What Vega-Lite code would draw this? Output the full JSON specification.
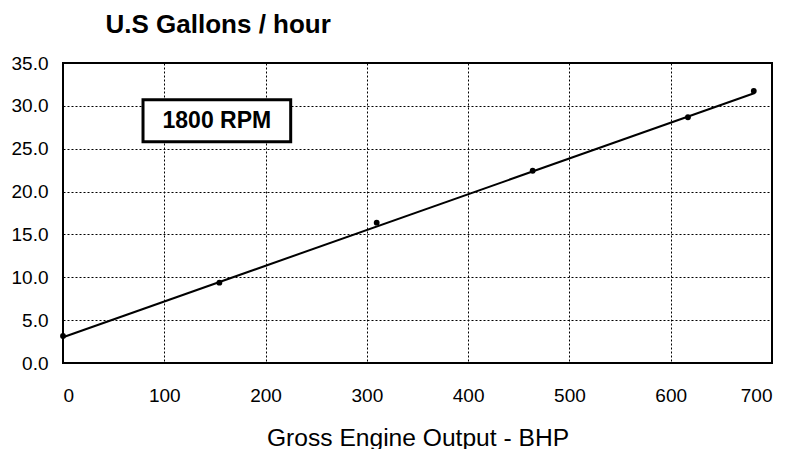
{
  "$schema": "https://vega.github.io/schema/vega-lite/v6.json",
  "width": 709,
  "height": 300,
  "autosize": "none",
  "padding": {"left": 63, "top": 63, "right": 18, "bottom": 86},
  "background": "white",
  "config": {
    "font": "Liberation Sans",
    "view": {"stroke": "black", "strokeWidth": 2},
    "axis": {
      "domain": false,
      "ticks": false,
      "grid": true,
      "gridColor": "black",
      "gridDash": [2, 2],
      "gridWidth": 1,
      "gridOpacity": 1,
      "labelFont": "Liberation Sans",
      "labelFontSize": 19,
      "labelColor": "black",
      "titleFont": "Liberation Sans",
      "titleColor": "black"
    }
  },
  "datasets": {
    "points": [
      {"bhp": 0, "gph": 3.15},
      {"bhp": 154.4, "gph": 9.37},
      {"bhp": 309.7, "gph": 16.37},
      {"bhp": 463.7, "gph": 22.43},
      {"bhp": 617, "gph": 28.67},
      {"bhp": 682, "gph": 31.73}
    ],
    "trend": [
      {"bhp": 0, "gph": 3.0},
      {"bhp": 683, "gph": 31.5}
    ],
    "box": [
      {"x1": 79, "x2": 224.8, "y1": 25.8, "y2": 30.7, "xc": 151.9, "yc": 28.25, "label": "1800 RPM"}
    ]
  },
  "layer": [
    {
      "data": {"name": "trend"},
      "mark": {"type": "line", "color": "black", "strokeWidth": 2},
      "encoding": {
        "x": {
          "field": "bhp", "type": "quantitative",
          "scale": {"domain": [0, 700], "nice": false},
          "axis": {
            "values": [0, 100, 200, 300, 400, 500, 600, 700],
            "labelPadding": 23,
            "title": "Gross Engine Output - BHP",
            "titleFontSize": 24.6,
            "titleFontWeight": "normal",
            "titleBaseline": "alphabetic",
            "titleY": 82
          }
        },
        "y": {
          "field": "gph", "type": "quantitative",
          "scale": {"domain": [0, 35], "nice": false},
          "axis": {
            "values": [0, 5, 10, 15, 20, 25, 30, 35],
            "format": ".1f",
            "labelPadding": 15,
            "title": "U.S Gallons / hour",
            "titleAngle": 0,
            "titleAlign": "left",
            "titleBaseline": "alphabetic",
            "titleFontSize": 26,
            "titleFontWeight": "bold",
            "titleX": 42,
            "titleY": -31
          }
        }
      }
    },
    {
      "data": {"name": "points"},
      "mark": {"type": "circle", "color": "black", "opacity": 1, "size": 34},
      "encoding": {
        "x": {"field": "bhp", "type": "quantitative"},
        "y": {"field": "gph", "type": "quantitative"}
      }
    },
    {
      "data": {"name": "box"},
      "mark": {"type": "rect", "fill": "white", "stroke": "black", "strokeWidth": 3},
      "encoding": {
        "x": {"field": "x1", "type": "quantitative"},
        "x2": {"field": "x2"},
        "y": {"field": "y1", "type": "quantitative"},
        "y2": {"field": "y2"}
      }
    },
    {
      "data": {"name": "box"},
      "mark": {"type": "text", "font": "Liberation Sans", "fontSize": 23, "fontWeight": "bold", "color": "black", "align": "center", "baseline": "middle"},
      "encoding": {
        "x": {"field": "xc", "type": "quantitative"},
        "y": {"field": "yc", "type": "quantitative"},
        "text": {"field": "label"}
      }
    }
  ]
}
